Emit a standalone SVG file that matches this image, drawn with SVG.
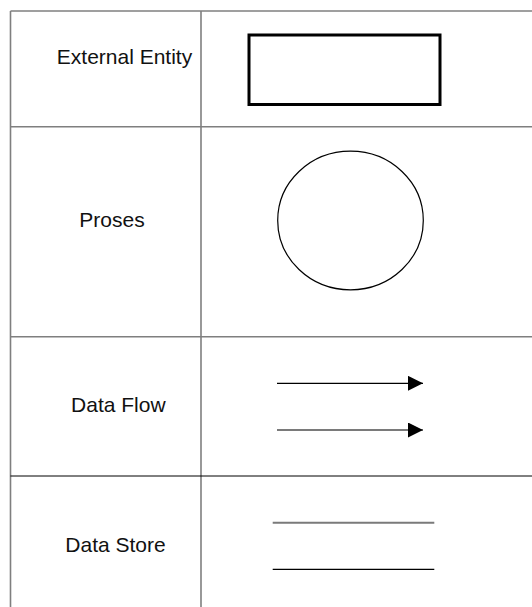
<svg xmlns="http://www.w3.org/2000/svg" width="532" height="607" viewBox="0 0 532 607">
  <style>
    .grid { stroke: #7f7f7f; stroke-width: 1.6; fill: none; }
    .grid-dark { stroke: #000; stroke-width: 1; fill: none; }
    .label { font-family: "Liberation Sans", Arial, sans-serif; font-size: 21px; fill: #111; text-anchor: middle; }
    .thin { stroke: #000; stroke-width: 1.2; fill: none; }
    .soft { stroke: #7a7a7a; stroke-width: 2; fill: none; }
  </style>
  <defs>
    <marker id="head" markerUnits="userSpaceOnUse" markerWidth="16" markerHeight="16" refX="15" refY="7.5" orient="auto">
      <polygon points="0,0 15,7.5 0,15" fill="#000"/>
    </marker>
  </defs>
  <rect width="532" height="607" fill="#fff"/>

  <!-- table grid -->
  <g id="table">
    <line class="grid" x1="10.5" y1="11" x2="532" y2="11"/>
    <line class="grid" x1="10.5" y1="11" x2="10.5" y2="607"/>
    <line class="grid" x1="201" y1="11" x2="201" y2="607"/>
    <line class="grid" x1="10.5" y1="126.7" x2="532" y2="126.7"/>
    <line class="grid" x1="10.5" y1="336.7" x2="532" y2="336.7"/>
    <line class="grid-dark" x1="10.5" y1="476" x2="532" y2="476"/>
  </g>

  <!-- row labels -->
  <g id="label-external-entity"><text class="label" x="124.5" y="64">External Entity</text></g>
  <g id="label-proses"><text class="label" x="112" y="227">Proses</text></g>
  <g id="label-data-flow"><text class="label" x="118.3" y="412">Data Flow</text></g>
  <g id="label-data-store"><text class="label" x="115.5" y="552">Data Store</text></g>

  <!-- symbols -->
  <g id="external-entity">
    <rect x="249" y="35" width="191" height="69.5" fill="#fff" stroke="#000" stroke-width="3"/>
  </g>
  <g id="proses">
    <ellipse cx="350.5" cy="220.5" rx="72.8" ry="69.3" fill="#fff" stroke="#000" stroke-width="1.2"/>
  </g>
  <g id="connectors">
    <line class="thin" x1="277" y1="383.3" x2="423" y2="383.3" marker-end="url(#head)"/>
    <line class="soft" x1="277" y1="430" x2="423" y2="430" marker-end="url(#head)"/>
  </g>
  <g id="data-store">
    <line class="soft" x1="272.7" y1="522.7" x2="434.3" y2="522.7"/>
    <line class="thin" x1="272.7" y1="569.3" x2="434.3" y2="569.3"/>
  </g>
</svg>
